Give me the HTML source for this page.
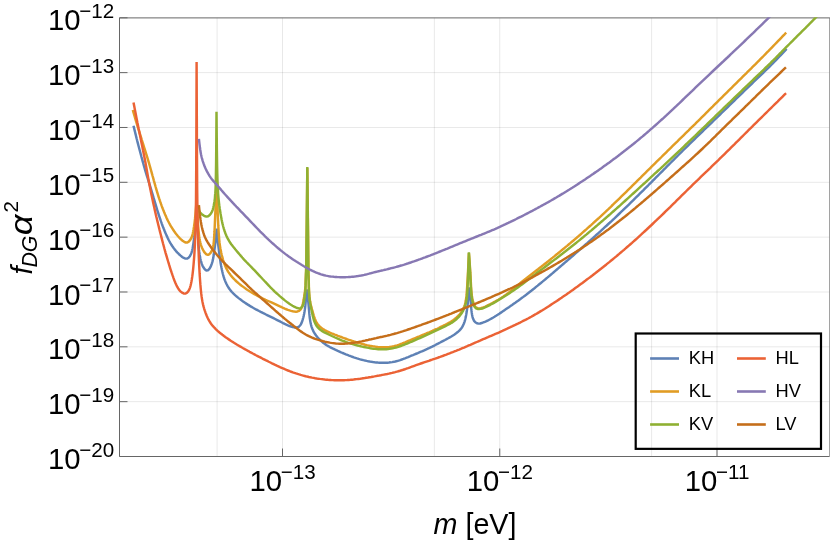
<!DOCTYPE html>
<html><head><meta charset="utf-8"><title>plot</title>
<style>html,body{margin:0;padding:0;background:#fff;}svg{display:block;will-change:transform;}body{font-family:"Liberation Sans",sans-serif;}</style></head>
<body>
<svg width="830" height="540" viewBox="0 0 830 540" font-family="'Liberation Sans', sans-serif" fill="#000">
<rect x="0" y="0" width="830" height="540" fill="#fff"/>
<path d="M119.5 72.64H829.5 M119.5 127.47H829.5 M119.5 182.31H829.5 M119.5 237.15H829.5 M119.5 291.99H829.5 M119.5 346.82H829.5 M119.5 401.66H829.5 M217.10 17.8V456.5 M282.50 17.8V456.5 M434.35 17.8V456.5 M499.75 17.8V456.5 M651.60 17.8V456.5 M717.00 17.8V456.5" stroke="#000" stroke-opacity="0.09" stroke-width="1" fill="none"/>
<path d="M119.5 17.900000000000002H829.9V456.5" stroke="#666666" stroke-width="1" fill="none"/>
<path d="M119.5 17.8V456.5H829.5" stroke="#666666" stroke-width="1" fill="none"/>
<path d="M119.5 17.80h8 M119.5 72.64h8 M119.5 127.47h8 M119.5 182.31h8 M119.5 237.15h8 M119.5 291.99h8 M119.5 346.82h8 M119.5 401.66h8 M119.5 456.50h8 M282.50 456.5v-8 M499.75 456.5v-8 M717.00 456.5v-8" stroke="#666666" stroke-width="1" fill="none"/>
<clipPath id="c"><rect x="119.5" y="17.2" width="711.0" height="439.3"/></clipPath>
<g clip-path="url(#c)" fill="none" stroke-width="2.45" stroke-linejoin="bevel" stroke-linecap="butt">
<path d="M133.50 125.70 L133.90 127.36 L134.30 129.01 L134.70 130.65 L135.10 132.27 L135.50 133.89 L135.90 135.50 L136.30 137.10 L136.69 138.69 L137.09 140.27 L137.49 141.84 L137.89 143.39 L138.29 144.94 L138.69 146.48 L139.09 148.01 L139.49 149.53 L139.89 151.04 L140.29 152.55 L140.89 154.78 L141.49 157.00 L142.09 159.19 L142.69 161.37 L143.28 163.52 L143.88 165.65 L144.48 167.75 L145.08 169.81 L145.68 171.83 L146.28 173.82 L146.88 175.78 L147.48 177.72 L148.08 179.65 L148.68 181.57 L149.28 183.49 L149.87 185.43 L150.47 187.38 L151.07 189.36 L151.67 191.35 L152.27 193.35 L152.87 195.36 L153.47 197.39 L154.07 199.41 L154.67 201.44 L155.27 203.45 L155.86 205.45 L156.46 207.43 L157.06 209.39 L157.66 211.32 L158.26 213.22 L158.86 215.09 L159.46 216.92 L160.06 218.71 L160.66 220.46 L161.26 222.17 L161.86 223.84 L162.45 225.46 L163.05 227.04 L163.65 228.56 L164.45 230.54 L165.25 232.45 L166.05 234.33 L166.85 236.13 L167.65 237.84 L168.44 239.46 L169.24 241.00 L170.24 242.80 L171.24 244.47 L172.24 246.03 L173.44 247.76 L174.63 249.36 L176.03 251.06 L177.43 252.62 L179.03 254.23 L180.63 255.66 L182.22 256.94 L183.82 257.97 L185.42 258.61 L187.02 258.63 L188.61 257.70 L190.01 255.90 L191.01 253.97 L191.61 252.40 L192.21 250.28 L192.61 248.40 L193.01 246.07 L193.41 243.34 L193.80 240.34 L194.00 238.78 L194.20 237.19 L194.40 235.55 L194.60 233.85 L194.80 232.06 L195.00 230.16 L195.20 228.03 L195.40 226.08 L195.60 223.91 L195.80 221.66 L196.00 219.34 L196.20 216.96 L196.40 214.51 L196.60 212.00 L196.80 215.92 L197.00 219.77 L197.20 223.54 L197.40 227.20 L197.60 230.73 L197.79 234.10 L197.99 237.00 L198.19 240.29 L198.39 243.07 L198.59 245.57 L198.79 247.78 L198.99 249.70 L199.19 251.39 L199.59 254.22 L199.98 256.59 L200.38 258.65 L200.78 260.44 L201.18 261.99 L201.77 263.88 L202.57 265.79 L203.57 267.58 L204.76 269.21 L206.35 270.46 L207.94 270.37 L209.54 268.73 L210.53 266.93 L211.33 265.11 L211.92 263.46 L212.52 261.38 L212.92 259.65 L213.32 257.58 L213.71 255.06 L214.11 252.14 L214.31 250.61 L214.51 249.07 L214.71 247.56 L215.11 244.44 L215.31 242.86 L215.51 241.33 L215.70 239.53 L215.90 237.60 L216.10 235.54 L216.30 233.36 L216.50 231.08 L216.70 228.70 L216.90 231.37 L217.10 233.91 L217.30 236.30 L217.50 238.50 L217.70 240.50 L217.90 242.27 L218.30 245.37 L218.70 248.34 L218.90 249.95 L219.10 251.61 L219.30 253.28 L219.50 254.94 L219.70 256.55 L219.90 258.08 L220.30 260.91 L220.70 263.44 L221.10 265.74 L221.50 267.83 L221.90 269.77 L222.30 271.57 L222.70 273.24 L223.10 274.78 L223.70 276.88 L224.30 278.73 L224.90 280.37 L225.70 282.31 L226.50 284.01 L227.30 285.54 L228.30 287.23 L229.30 288.74 L230.50 290.35 L231.90 292.01 L233.50 293.68 L235.10 295.18 L236.70 296.57 L238.30 297.87 L239.90 299.10 L241.50 300.28 L243.10 301.43 L244.70 302.54 L246.30 303.62 L247.90 304.65 L249.50 305.65 L251.10 306.62 L252.70 307.55 L254.30 308.46 L255.90 309.34 L257.50 310.19 L259.10 311.03 L260.70 311.85 L262.30 312.66 L263.90 313.47 L265.50 314.27 L267.10 315.06 L268.70 315.85 L270.30 316.64 L271.90 317.43 L273.50 318.22 L275.10 319.02 L276.70 319.82 L278.30 320.63 L279.90 321.44 L281.50 322.25 L283.10 323.05 L284.70 323.84 L286.30 324.61 L287.90 325.34 L289.50 326.01 L291.10 326.59 L292.70 327.07 L294.30 327.41 L295.90 327.56 L297.50 327.36 L299.10 326.54 L300.50 325.00 L301.50 323.10 L302.10 321.54 L302.70 319.67 L303.30 317.50 L303.70 315.84 L304.10 313.93 L304.50 311.74 L304.90 309.15 L305.10 307.63 L305.30 305.89 L305.50 303.65 L305.70 301.64 L305.90 299.32 L306.10 297.07 L306.30 295.00 L306.50 293.11 L306.70 291.28 L306.90 289.50 L307.10 290.28 L307.30 292.11 L307.50 293.99 L307.70 295.90 L307.90 297.86 L308.10 299.85 L308.30 301.97 L308.50 303.96 L308.70 306.24 L308.90 308.67 L309.10 311.11 L309.30 313.42 L309.50 315.46 L309.70 317.25 L309.90 318.80 L310.30 321.37 L310.70 323.39 L311.09 325.06 L311.69 327.07 L312.29 328.74 L313.09 330.57 L313.89 332.11 L314.89 333.76 L316.09 335.46 L317.29 336.97 L318.69 338.55 L320.28 340.18 L321.88 341.64 L323.48 342.95 L325.08 344.12 L326.68 345.18 L328.27 346.15 L329.87 347.04 L331.47 347.87 L333.07 348.66 L334.67 349.42 L336.26 350.16 L337.86 350.89 L339.46 351.60 L341.06 352.31 L342.66 353.00 L344.25 353.67 L345.85 354.33 L347.45 354.97 L349.05 355.58 L350.65 356.18 L352.24 356.76 L353.84 357.31 L355.44 357.85 L357.04 358.36 L358.64 358.85 L360.23 359.31 L361.83 359.74 L363.43 360.15 L365.03 360.53 L366.63 360.89 L368.22 361.21 L369.82 361.51 L371.42 361.78 L373.02 362.02 L374.62 362.23 L376.21 362.41 L377.81 362.56 L379.41 362.67 L381.01 362.75 L382.61 362.79 L384.20 362.80 L385.80 362.76 L387.40 362.67 L389.00 362.53 L390.60 362.34 L392.19 362.10 L393.79 361.80 L395.39 361.44 L396.99 361.03 L398.59 360.57 L400.19 360.06 L401.78 359.51 L403.38 358.92 L404.98 358.31 L406.58 357.68 L408.18 357.04 L409.77 356.39 L411.37 355.73 L412.97 355.08 L414.57 354.42 L416.17 353.75 L417.76 353.09 L419.36 352.41 L420.96 351.73 L422.56 351.04 L424.16 350.33 L425.75 349.61 L427.35 348.88 L428.95 348.13 L430.55 347.37 L432.15 346.59 L433.74 345.80 L435.34 344.99 L436.94 344.17 L438.54 343.35 L440.14 342.52 L441.73 341.69 L443.33 340.85 L444.93 340.01 L446.53 339.16 L448.13 338.29 L449.72 337.40 L451.32 336.46 L452.92 335.47 L454.52 334.41 L456.12 333.29 L457.71 332.06 L459.31 330.65 L460.91 328.91 L462.11 327.21 L463.11 325.39 L463.91 323.52 L464.51 321.83 L465.11 319.80 L465.50 318.22 L465.90 316.37 L466.30 314.24 L466.70 311.81 L467.10 309.05 L467.30 307.52 L467.50 305.84 L467.70 304.01 L467.90 301.94 L468.10 299.99 L468.30 297.99 L468.50 295.94 L468.70 293.85 L468.90 291.72 L469.10 289.53 L469.30 287.30 L469.50 289.12 L469.70 291.00 L469.90 292.92 L470.10 294.89 L470.30 296.90 L470.50 298.95 L470.70 301.39 L470.90 303.69 L471.10 306.27 L471.30 308.66 L471.50 310.71 L471.70 312.40 L472.10 314.98 L472.50 316.84 L473.10 318.86 L473.90 320.60 L475.30 322.25 L476.90 323.26 L478.50 323.60 L480.10 323.45 L481.70 323.01 L483.30 322.45 L484.90 321.81 L486.49 321.10 L488.09 320.33 L489.69 319.50 L491.29 318.62 L492.89 317.70 L494.49 316.75 L496.09 315.75 L497.69 314.73 L499.29 313.68 L500.89 312.61 L502.49 311.53 L504.09 310.44 L505.69 309.35 L507.29 308.25 L508.89 307.16 L510.49 306.06 L512.09 304.95 L513.69 303.83 L515.29 302.71 L516.89 301.57 L518.48 300.42 L520.08 299.25 L521.68 298.07 L523.28 296.88 L524.88 295.68 L526.48 294.46 L528.08 293.22 L529.68 291.98 L531.28 290.73 L532.88 289.46 L534.48 288.19 L536.08 286.90 L537.68 285.61 L539.28 284.31 L540.88 283.00 L542.48 281.68 L544.08 280.35 L545.68 279.02 L547.28 277.68 L548.87 276.33 L550.47 274.98 L552.07 273.63 L553.67 272.27 L555.27 270.90 L556.87 269.53 L558.47 268.16 L560.07 266.79 L561.67 265.41 L563.27 264.03 L564.87 262.65 L566.47 261.27 L568.07 259.89 L569.67 258.50 L571.27 257.11 L572.87 255.72 L574.47 254.33 L576.07 252.94 L577.67 251.54 L579.27 250.14 L580.86 248.74 L582.46 247.33 L584.06 245.92 L585.66 244.51 L587.26 243.10 L588.86 241.67 L590.46 240.25 L592.06 238.81 L593.66 237.38 L595.26 235.94 L596.86 234.49 L598.46 233.04 L600.06 231.59 L601.66 230.13 L603.26 228.67 L604.86 227.20 L606.46 225.73 L608.06 224.25 L609.66 222.77 L611.26 221.28 L612.85 219.78 L614.45 218.28 L616.05 216.77 L617.65 215.26 L619.25 213.74 L620.85 212.22 L622.45 210.69 L624.05 209.15 L625.65 207.61 L627.25 206.06 L628.85 204.51 L630.45 202.95 L632.05 201.38 L633.65 199.81 L635.25 198.24 L636.85 196.66 L638.45 195.08 L640.05 193.49 L641.65 191.90 L643.25 190.31 L644.84 188.71 L646.44 187.11 L648.04 185.51 L649.64 183.90 L651.24 182.30 L652.84 180.69 L654.44 179.08 L656.04 177.47 L657.64 175.86 L659.24 174.25 L660.84 172.65 L662.44 171.04 L664.04 169.43 L665.64 167.83 L667.24 166.22 L668.84 164.61 L670.44 163.00 L672.04 161.39 L673.64 159.79 L675.24 158.19 L676.83 156.59 L678.43 155.00 L680.03 153.41 L681.63 151.82 L683.23 150.24 L684.83 148.66 L686.43 147.08 L688.03 145.51 L689.63 143.94 L691.23 142.38 L692.83 140.82 L694.43 139.26 L696.03 137.71 L697.63 136.16 L699.23 134.61 L700.83 133.06 L702.43 131.52 L704.03 129.97 L705.63 128.43 L707.23 126.88 L708.82 125.34 L710.42 123.79 L712.02 122.25 L713.62 120.70 L715.22 119.15 L716.82 117.60 L718.42 116.05 L720.02 114.50 L721.62 112.95 L723.22 111.40 L724.82 109.85 L726.42 108.30 L728.02 106.75 L729.62 105.20 L731.22 103.64 L732.82 102.09 L734.42 100.54 L736.02 98.99 L737.62 97.44 L739.21 95.89 L740.81 94.34 L742.41 92.79 L744.01 91.24 L745.61 89.69 L747.21 88.15 L748.81 86.60 L750.41 85.05 L752.01 83.51 L753.61 81.97 L755.21 80.43 L756.81 78.89 L758.41 77.36 L760.01 75.82 L761.61 74.29 L763.21 72.75 L764.81 71.20 L766.41 69.65 L768.01 68.09 L769.61 66.51 L771.20 64.93 L772.80 63.33 L774.40 61.71 L776.00 60.07 L777.60 58.42 L779.20 56.74 L780.80 55.05 L782.40 53.34 L783.80 51.83 L785.20 50.32 L786.60 48.80" stroke="#5E81B5"/>
<path d="M132.80 110.00 L133.40 112.09 L134.00 114.17 L134.60 116.25 L135.20 118.30 L135.80 120.34 L136.40 122.35 L137.00 124.34 L137.60 126.32 L138.20 128.29 L138.80 130.24 L139.40 132.18 L140.00 134.11 L140.60 136.03 L141.20 137.95 L141.80 139.87 L142.40 141.78 L143.00 143.69 L143.60 145.60 L144.20 147.51 L144.80 149.43 L145.40 151.35 L146.00 153.28 L146.60 155.21 L147.20 157.17 L147.80 159.15 L148.40 161.16 L149.00 163.20 L149.60 165.28 L150.20 167.38 L150.80 169.51 L151.40 171.67 L152.00 173.83 L152.60 176.02 L153.20 178.19 L153.80 180.36 L154.40 182.52 L155.00 184.66 L155.60 186.77 L156.20 188.85 L156.80 190.89 L157.40 192.89 L158.00 194.84 L158.60 196.76 L159.20 198.62 L159.80 200.43 L160.40 202.20 L161.00 203.92 L161.60 205.59 L162.20 207.21 L162.80 208.79 L163.40 210.32 L164.20 212.30 L165.00 214.23 L165.80 216.12 L166.60 217.91 L167.40 219.62 L168.20 221.24 L169.00 222.78 L170.00 224.60 L171.00 226.32 L172.00 227.95 L173.00 229.50 L174.20 231.26 L175.40 232.94 L176.60 234.52 L178.00 236.23 L179.40 237.80 L181.00 239.39 L182.60 240.76 L184.20 241.85 L185.80 242.49 L187.40 242.41 L189.00 241.38 L190.40 239.63 L191.40 237.82 L192.20 235.73 L192.80 233.46 L193.20 231.52 L193.60 229.26 L194.00 226.75 L194.40 223.96 L194.60 222.41 L194.80 220.72 L195.00 218.88 L195.20 216.70 L195.40 214.77 L195.60 212.54 L195.80 210.21 L196.00 207.77 L196.20 205.26 L196.40 202.66 L196.60 200.00 L196.80 203.63 L197.00 207.21 L197.20 210.71 L197.40 214.11 L197.60 217.38 L197.79 220.51 L197.99 223.19 L198.19 226.24 L198.39 228.80 L198.59 231.10 L198.79 233.11 L198.99 234.86 L199.19 236.38 L199.59 238.89 L199.98 240.95 L200.38 242.71 L200.78 244.24 L201.38 246.17 L201.97 247.72 L202.77 249.43 L203.76 251.22 L204.76 252.72 L206.35 254.35 L207.94 254.86 L209.54 254.06 L210.93 252.36 L211.92 250.62 L212.52 249.05 L213.12 246.70 L213.52 244.25 L213.71 242.61 L213.91 240.60 L214.11 238.10 L214.31 234.95 L214.51 231.19 L214.71 226.83 L214.91 222.13 L215.11 217.47 L215.31 212.97 L215.51 208.55 L215.70 203.99 L215.90 199.35 L216.10 194.64 L216.30 189.85 L216.50 184.97 L216.70 180.00 L216.90 187.38 L217.10 194.37 L217.30 200.94 L217.50 207.02 L217.70 212.58 L217.90 217.57 L218.10 221.26 L218.30 225.93 L218.50 229.56 L218.70 232.82 L218.90 235.69 L219.09 238.18 L219.29 240.33 L219.49 242.19 L219.69 243.82 L220.09 246.59 L220.49 248.96 L220.89 251.06 L221.29 253.01 L221.69 254.78 L222.09 256.43 L222.49 257.94 L223.09 260.02 L223.68 261.89 L224.28 263.58 L224.88 265.13 L225.68 267.00 L226.48 268.66 L227.48 270.49 L228.47 272.12 L229.67 273.86 L230.87 275.43 L232.27 277.10 L233.66 278.63 L235.26 280.24 L236.86 281.73 L238.45 283.13 L240.05 284.44 L241.64 285.69 L243.24 286.88 L244.84 288.04 L246.43 289.15 L248.03 290.22 L249.63 291.25 L251.22 292.24 L252.82 293.20 L254.42 294.11 L256.01 294.99 L257.61 295.84 L259.21 296.66 L260.80 297.46 L262.40 298.24 L264.00 299.01 L265.59 299.77 L267.19 300.52 L268.79 301.25 L270.38 301.98 L271.98 302.71 L273.57 303.44 L275.17 304.19 L276.77 304.94 L278.36 305.70 L279.96 306.46 L281.56 307.21 L283.15 307.93 L284.75 308.62 L286.35 309.26 L287.94 309.85 L289.54 310.38 L291.14 310.85 L292.73 311.26 L294.33 311.56 L295.93 311.68 L297.52 311.47 L299.12 310.79 L300.71 309.31 L301.71 307.52 L302.31 305.84 L302.91 303.54 L303.31 301.57 L303.71 299.34 L304.11 296.88 L304.51 294.17 L304.91 291.43 L305.10 289.79 L305.30 288.02 L305.50 285.88 L305.70 279.19 L305.90 274.13 L306.10 271.36 L306.30 258.21 L306.50 242.66 L306.70 226.95 L306.90 209.31 L307.10 189.55 L307.30 168.00 L307.50 184.32 L307.70 200.95 L307.90 217.85 L308.10 235.00 L308.30 255.32 L308.50 274.10 L308.70 276.44 L308.90 287.63 L309.10 291.75 L309.30 294.63 L309.50 296.84 L309.70 298.70 L310.10 301.33 L310.50 303.54 L310.90 305.27 L311.30 306.94 L311.90 309.14 L312.50 311.22 L313.10 313.26 L313.70 315.28 L314.30 317.16 L314.90 318.85 L315.70 320.78 L316.50 322.36 L317.50 323.96 L318.70 325.48 L320.30 327.06 L321.90 328.34 L323.50 329.41 L325.10 330.35 L326.70 331.18 L328.30 331.94 L329.90 332.64 L331.50 333.30 L333.10 333.93 L334.70 334.56 L336.30 335.17 L337.90 335.79 L339.50 336.40 L341.10 337.00 L342.70 337.60 L344.30 338.19 L345.90 338.77 L347.50 339.35 L349.10 339.90 L350.70 340.44 L352.30 340.98 L353.90 341.50 L355.50 342.01 L357.10 342.51 L358.70 342.98 L360.30 343.44 L361.90 343.89 L363.50 344.31 L365.10 344.71 L366.70 345.09 L368.30 345.44 L369.90 345.77 L371.50 346.07 L373.10 346.34 L374.70 346.58 L376.30 346.79 L377.90 346.97 L379.50 347.10 L381.10 347.20 L382.70 347.26 L384.30 347.27 L385.90 347.23 L387.50 347.14 L389.10 346.99 L390.70 346.78 L392.30 346.51 L393.90 346.17 L395.50 345.77 L397.10 345.32 L398.70 344.80 L400.30 344.24 L401.90 343.64 L403.50 343.00 L405.10 342.35 L406.70 341.67 L408.30 340.99 L409.90 340.31 L411.50 339.63 L413.10 338.95 L414.70 338.28 L416.30 337.62 L417.90 336.96 L419.50 336.31 L421.10 335.65 L422.70 334.99 L424.30 334.33 L425.90 333.67 L427.50 332.99 L429.10 332.31 L430.70 331.62 L432.30 330.92 L433.90 330.20 L435.50 329.47 L437.10 328.74 L438.70 327.99 L440.30 327.22 L441.90 326.45 L443.50 325.66 L445.10 324.85 L446.70 324.02 L448.30 323.15 L449.90 322.24 L451.50 321.26 L453.10 320.18 L454.70 319.00 L456.30 317.69 L457.90 316.20 L459.50 314.48 L460.70 312.97 L461.90 311.24 L462.90 309.52 L463.70 307.87 L464.30 306.37 L464.90 304.51 L465.30 302.97 L465.70 301.09 L466.10 298.58 L466.30 297.00 L466.50 295.13 L466.70 292.91 L466.90 290.36 L467.10 287.49 L467.30 284.37 L467.50 280.68 L467.70 277.42 L467.90 273.67 L468.10 269.75 L468.30 265.70 L468.50 261.54 L468.70 257.30 L468.90 253.00 L469.10 255.42 L469.30 257.95 L469.50 260.58 L469.70 263.30 L469.90 266.12 L470.10 269.02 L470.30 272.45 L470.50 275.58 L470.70 279.43 L470.90 283.27 L471.10 286.79 L471.30 289.79 L471.50 292.30 L471.70 294.30 L471.90 295.94 L472.30 298.47 L472.70 300.32 L473.30 302.44 L473.90 304.14 L474.70 305.89 L475.90 307.45 L477.50 308.22 L479.10 308.38 L480.70 308.21 L482.30 307.81 L483.90 307.22 L485.49 306.50 L487.09 305.72 L488.69 304.92 L490.29 304.10 L491.89 303.27 L493.49 302.42 L495.09 301.56 L496.69 300.67 L498.29 299.75 L499.89 298.80 L501.49 297.80 L503.09 296.74 L504.69 295.62 L506.29 294.45 L507.89 293.24 L509.49 291.98 L511.09 290.70 L512.69 289.39 L514.29 288.07 L515.89 286.75 L517.48 285.43 L519.08 284.12 L520.68 282.81 L522.28 281.51 L523.88 280.23 L525.48 278.96 L527.08 277.69 L528.68 276.44 L530.28 275.19 L531.88 273.94 L533.48 272.70 L535.08 271.46 L536.68 270.22 L538.28 268.99 L539.88 267.74 L541.48 266.50 L543.08 265.25 L544.68 263.99 L546.28 262.73 L547.88 261.46 L549.47 260.19 L551.07 258.91 L552.67 257.63 L554.27 256.34 L555.87 255.04 L557.47 253.74 L559.07 252.43 L560.67 251.12 L562.27 249.81 L563.87 248.49 L565.47 247.16 L567.07 245.83 L568.67 244.49 L570.27 243.15 L571.87 241.80 L573.47 240.45 L575.07 239.08 L576.67 237.72 L578.27 236.34 L579.87 234.96 L581.46 233.57 L583.06 232.17 L584.66 230.76 L586.26 229.35 L587.86 227.92 L589.46 226.49 L591.06 225.06 L592.66 223.62 L594.26 222.17 L595.86 220.72 L597.46 219.26 L599.06 217.79 L600.66 216.31 L602.26 214.82 L603.86 213.33 L605.46 211.83 L607.06 210.32 L608.66 208.81 L610.26 207.29 L611.85 205.76 L613.45 204.23 L615.05 202.69 L616.65 201.15 L618.25 199.60 L619.85 198.04 L621.45 196.48 L623.05 194.92 L624.65 193.35 L626.25 191.78 L627.85 190.21 L629.45 188.63 L631.05 187.05 L632.65 185.47 L634.25 183.89 L635.85 182.31 L637.45 180.73 L639.05 179.14 L640.65 177.56 L642.25 175.97 L643.84 174.39 L645.44 172.80 L647.04 171.22 L648.64 169.63 L650.24 168.05 L651.84 166.47 L653.44 164.89 L655.04 163.31 L656.64 161.73 L658.24 160.15 L659.84 158.57 L661.44 157.00 L663.04 155.42 L664.64 153.85 L666.24 152.28 L667.84 150.70 L669.44 149.12 L671.04 147.55 L672.64 145.98 L674.24 144.41 L675.83 142.84 L677.43 141.28 L679.03 139.71 L680.63 138.14 L682.23 136.58 L683.83 135.01 L685.43 133.44 L687.03 131.88 L688.63 130.31 L690.23 128.73 L691.83 127.16 L693.43 125.58 L695.03 124.01 L696.63 122.43 L698.23 120.85 L699.83 119.26 L701.43 117.68 L703.03 116.09 L704.63 114.51 L706.23 112.92 L707.82 111.33 L709.42 109.74 L711.02 108.15 L712.62 106.57 L714.22 104.98 L715.82 103.39 L717.42 101.80 L719.02 100.22 L720.62 98.63 L722.22 97.05 L723.82 95.46 L725.42 93.88 L727.02 92.30 L728.62 90.71 L730.22 89.13 L731.82 87.55 L733.42 85.96 L735.02 84.38 L736.62 82.80 L738.22 81.22 L739.81 79.64 L741.41 78.06 L743.01 76.48 L744.61 74.90 L746.21 73.32 L747.81 71.73 L749.41 70.15 L751.01 68.57 L752.61 66.98 L754.21 65.39 L755.81 63.80 L757.41 62.20 L759.01 60.59 L760.61 58.98 L762.21 57.36 L763.81 55.74 L765.41 54.11 L767.01 52.48 L768.61 50.85 L770.21 49.21 L771.80 47.56 L773.40 45.92 L775.00 44.27 L776.60 42.61 L778.20 40.95 L779.80 39.29 L781.40 37.63 L783.00 35.95 L784.60 34.28 L786.20 32.60" stroke="#E19C24"/>
<path d="M199.20 211.00 L200.19 212.56 L201.79 214.15 L203.38 215.33 L204.97 216.20 L206.56 216.58 L208.15 216.21 L209.74 215.00 L211.13 213.24 L212.13 211.41 L212.72 209.82 L213.32 207.60 L213.72 205.73 L214.11 203.58 L214.51 201.15 L214.91 198.09 L215.11 194.77 L215.31 193.16 L215.51 189.89 L215.70 184.35 L215.90 175.42 L216.10 162.40 L216.30 140.37 L216.50 111.70 L216.70 132.77 L216.90 150.94 L217.10 164.92 L217.30 173.95 L217.50 180.70 L217.70 185.93 L217.90 188.61 L218.10 193.27 L218.30 195.90 L218.50 198.19 L218.70 200.22 L218.89 202.01 L219.09 203.72 L219.29 205.28 L219.69 208.16 L220.09 210.76 L220.49 213.25 L220.89 215.61 L221.29 217.84 L221.69 219.93 L222.09 221.86 L222.49 223.63 L222.89 225.27 L223.29 226.78 L223.88 228.86 L224.48 230.74 L225.08 232.46 L225.68 234.03 L226.48 235.93 L227.28 237.64 L228.07 239.19 L229.07 240.94 L230.07 242.51 L231.27 244.23 L232.46 245.82 L233.86 247.56 L235.26 249.26 L236.66 250.94 L238.05 252.61 L239.45 254.28 L240.85 255.92 L242.24 257.52 L243.64 259.07 L245.04 260.58 L246.63 262.25 L248.23 263.89 L249.83 265.51 L251.42 267.14 L253.02 268.79 L254.62 270.46 L256.21 272.16 L257.81 273.84 L259.41 275.54 L261.00 277.24 L262.40 278.75 L263.80 280.25 L265.39 281.96 L266.99 283.66 L268.59 285.35 L270.18 287.02 L271.78 288.66 L273.37 290.25 L274.97 291.78 L276.57 293.27 L278.16 294.69 L279.76 296.08 L281.36 297.44 L282.95 298.77 L284.55 300.09 L286.15 301.37 L287.74 302.60 L289.34 303.74 L290.94 304.79 L292.53 305.74 L294.13 306.61 L295.73 307.38 L297.32 308.02 L298.92 308.43 L300.51 308.29 L302.11 306.89 L302.91 305.36 L303.51 303.48 L303.91 301.59 L304.31 299.22 L304.71 296.30 L305.10 293.20 L305.30 291.37 L305.50 289.19 L305.70 282.56 L305.90 277.57 L306.30 263.08 L306.50 244.08 L306.70 226.04 L306.90 207.50 L307.10 187.78 L307.30 166.90 L307.50 187.07 L307.70 206.66 L307.90 225.69 L308.10 245.00 L308.30 265.77 L308.50 279.30 L308.70 280.94 L308.90 290.34 L309.10 293.87 L309.30 296.45 L309.50 298.50 L309.70 300.22 L310.10 302.71 L310.50 304.94 L310.90 306.90 L311.30 308.92 L311.70 310.86 L312.10 312.78 L312.50 314.65 L312.90 316.38 L313.30 317.98 L313.90 320.04 L314.50 321.77 L315.30 323.62 L316.30 325.42 L317.50 327.09 L319.10 328.76 L320.70 330.08 L322.30 331.16 L323.90 332.09 L325.50 332.93 L327.10 333.72 L328.70 334.49 L330.30 335.25 L331.90 336.01 L333.50 336.76 L335.10 337.50 L336.70 338.23 L338.30 338.94 L339.90 339.62 L341.50 340.27 L343.10 340.90 L344.70 341.51 L346.30 342.08 L347.90 342.63 L349.50 343.16 L351.10 343.66 L352.70 344.14 L354.30 344.60 L355.90 345.03 L357.50 345.45 L359.10 345.85 L360.70 346.23 L362.30 346.59 L363.90 346.94 L365.50 347.28 L367.10 347.60 L368.70 347.90 L370.30 348.18 L371.90 348.44 L373.50 348.67 L375.10 348.87 L376.70 349.04 L378.30 349.17 L379.90 349.26 L381.50 349.30 L383.10 349.30 L384.70 349.26 L386.30 349.16 L387.90 349.01 L389.50 348.81 L391.10 348.56 L392.70 348.26 L394.30 347.91 L395.90 347.51 L397.50 347.06 L399.10 346.56 L400.70 346.03 L402.30 345.45 L403.90 344.85 L405.50 344.22 L407.10 343.57 L408.70 342.90 L410.30 342.22 L411.90 341.53 L413.50 340.83 L415.10 340.13 L416.70 339.43 L418.30 338.72 L419.90 338.01 L421.50 337.29 L423.10 336.57 L424.70 335.85 L426.30 335.12 L427.90 334.39 L429.50 333.66 L431.10 332.91 L432.70 332.17 L434.30 331.41 L435.90 330.65 L437.50 329.89 L439.10 329.13 L440.70 328.36 L442.30 327.60 L443.90 326.83 L445.50 326.05 L447.10 325.26 L448.70 324.44 L450.30 323.57 L451.90 322.62 L453.50 321.56 L455.10 320.35 L456.70 318.98 L458.30 317.41 L459.70 315.82 L460.90 314.28 L462.10 312.51 L463.10 310.77 L463.90 309.07 L464.50 307.54 L465.10 305.73 L465.70 303.59 L466.10 301.83 L466.50 299.71 L466.90 296.85 L467.10 294.99 L467.30 292.56 L467.50 288.21 L467.70 285.10 L467.90 280.01 L468.10 274.75 L468.30 269.65 L468.50 264.21 L468.70 258.40 L468.90 252.30 L469.10 255.48 L469.30 258.71 L469.50 262.00 L469.70 265.35 L469.90 268.75 L470.10 272.19 L470.30 276.38 L470.50 280.41 L470.70 284.52 L470.90 288.16 L471.10 291.15 L471.30 293.56 L471.50 295.50 L471.70 297.06 L472.10 299.46 L472.50 301.29 L473.10 303.35 L473.70 304.97 L474.50 306.65 L475.90 308.30 L477.50 308.94 L479.10 309.06 L480.70 308.89 L482.30 308.49 L483.90 307.90 L485.50 307.19 L487.09 306.42 L488.69 305.61 L490.29 304.79 L491.89 303.94 L493.49 303.07 L495.09 302.17 L496.69 301.24 L498.29 300.29 L499.89 299.32 L501.49 298.33 L503.09 297.32 L504.69 296.30 L506.29 295.27 L507.89 294.23 L509.49 293.17 L511.09 292.10 L512.69 291.01 L514.29 289.91 L515.89 288.80 L517.49 287.67 L519.09 286.52 L520.69 285.36 L522.28 284.19 L523.88 283.00 L525.48 281.80 L527.08 280.60 L528.68 279.39 L530.28 278.17 L531.88 276.95 L533.48 275.72 L535.08 274.50 L536.68 273.27 L538.28 272.05 L539.88 270.83 L541.48 269.61 L543.08 268.39 L544.68 267.18 L546.28 265.96 L547.88 264.75 L549.48 263.53 L551.08 262.31 L552.68 261.10 L554.28 259.88 L555.88 258.66 L557.47 257.43 L559.07 256.21 L560.67 254.98 L562.27 253.75 L563.87 252.51 L565.47 251.27 L567.07 250.02 L568.67 248.77 L570.27 247.51 L571.87 246.24 L573.47 244.97 L575.07 243.70 L576.67 242.42 L578.27 241.13 L579.87 239.83 L581.47 238.53 L583.07 237.22 L584.67 235.90 L586.27 234.58 L587.87 233.25 L589.47 231.91 L591.07 230.58 L592.66 229.23 L594.26 227.88 L595.86 226.53 L597.46 225.17 L599.06 223.80 L600.66 222.43 L602.26 221.05 L603.86 219.66 L605.46 218.27 L607.06 216.87 L608.66 215.47 L610.26 214.07 L611.86 212.66 L613.46 211.24 L615.06 209.82 L616.66 208.40 L618.26 206.97 L619.86 205.54 L621.46 204.10 L623.06 202.66 L624.66 201.22 L626.26 199.78 L627.85 198.33 L629.45 196.88 L631.05 195.43 L632.65 193.97 L634.25 192.52 L635.85 191.06 L637.45 189.60 L639.05 188.14 L640.65 186.68 L642.25 185.22 L643.85 183.75 L645.45 182.29 L647.05 180.82 L648.65 179.35 L650.25 177.88 L651.85 176.41 L653.45 174.94 L655.05 173.46 L656.65 171.99 L658.25 170.51 L659.85 169.03 L661.45 167.54 L663.05 166.06 L664.64 164.57 L666.24 163.08 L667.84 161.59 L669.44 160.10 L671.04 158.60 L672.64 157.10 L674.24 155.60 L675.84 154.09 L677.44 152.58 L679.04 151.07 L680.64 149.56 L682.24 148.04 L683.84 146.52 L685.44 145.00 L687.04 143.48 L688.64 141.95 L690.24 140.42 L691.84 138.89 L693.44 137.36 L695.04 135.83 L696.64 134.29 L698.24 132.75 L699.83 131.21 L701.43 129.67 L703.03 128.13 L704.63 126.59 L706.23 125.04 L707.83 123.49 L709.43 121.94 L711.03 120.39 L712.63 118.84 L714.23 117.29 L715.83 115.74 L717.43 114.19 L719.03 112.64 L720.63 111.09 L722.23 109.54 L723.83 107.99 L725.43 106.44 L727.03 104.90 L728.63 103.35 L730.23 101.81 L731.83 100.26 L733.43 98.72 L735.02 97.18 L736.62 95.64 L738.22 94.10 L739.82 92.56 L741.42 91.03 L743.02 89.49 L744.62 87.96 L746.22 86.42 L747.82 84.89 L749.42 83.35 L751.02 81.82 L752.62 80.29 L754.22 78.75 L755.82 77.22 L757.42 75.68 L759.02 74.15 L760.62 72.61 L762.22 71.06 L763.82 69.52 L765.42 67.96 L767.02 66.41 L768.62 64.84 L770.21 63.28 L771.81 61.70 L773.41 60.12 L775.01 58.53 L776.61 56.93 L778.21 55.32 L779.81 53.71 L781.41 52.10 L783.01 50.48 L784.61 48.85 L786.21 47.23 L787.81 45.61 L789.41 43.99 L791.01 42.38 L792.61 40.78 L794.21 39.18 L795.81 37.58 L797.41 35.99 L799.01 34.40 L800.61 32.81 L802.21 31.22 L803.81 29.63 L805.40 28.03 L807.00 26.43 L808.60 24.82 L810.20 23.21 L811.80 21.58 L813.40 19.96 L815.00 18.32 L816.60 16.67 L818.20 15.00 L819.80 13.32 L821.40 11.63 L822.00 11.00" stroke="#8FB032"/>
<path d="M133.50 102.40 L133.90 104.48 L134.30 106.56 L134.70 108.64 L135.10 110.72 L135.50 112.79 L135.90 114.85 L136.30 116.90 L136.69 118.95 L137.09 120.99 L137.49 123.01 L137.89 125.01 L138.29 127.00 L138.69 128.98 L139.09 130.95 L139.49 132.90 L139.89 134.85 L140.29 136.80 L140.69 138.74 L141.09 140.69 L141.49 142.63 L141.89 144.57 L142.29 146.52 L142.69 148.47 L143.08 150.43 L143.48 152.40 L143.88 154.40 L144.28 156.43 L144.68 158.50 L145.08 160.62 L145.48 162.79 L145.88 164.99 L146.28 167.22 L146.68 169.47 L147.08 171.72 L147.48 173.97 L147.88 176.19 L148.28 178.38 L148.68 180.54 L149.08 182.66 L149.47 184.73 L149.87 186.78 L150.27 188.79 L150.67 190.77 L151.07 192.72 L151.47 194.64 L151.87 196.55 L152.27 198.43 L152.67 200.29 L153.07 202.14 L153.47 203.98 L153.87 205.79 L154.27 207.59 L154.67 209.38 L155.07 211.14 L155.47 212.90 L155.86 214.63 L156.26 216.35 L156.66 218.05 L157.06 219.73 L157.46 221.40 L157.86 223.05 L158.26 224.69 L158.66 226.31 L159.06 227.92 L159.46 229.52 L159.86 231.11 L160.26 232.69 L160.66 234.26 L161.06 235.82 L161.46 237.37 L161.86 238.91 L162.25 240.44 L162.65 241.97 L163.05 243.49 L163.45 245.00 L163.85 246.50 L164.45 248.73 L165.05 250.94 L165.65 253.06 L166.25 255.15 L166.85 257.21 L167.45 259.24 L168.05 261.25 L168.64 263.23 L169.24 265.18 L169.84 267.11 L170.44 269.01 L171.04 270.87 L171.64 272.69 L172.24 274.46 L172.84 276.19 L173.44 277.87 L174.04 279.48 L174.63 281.03 L175.43 282.98 L176.23 284.78 L177.03 286.41 L178.03 288.19 L179.03 289.70 L180.43 291.34 L182.02 292.67 L183.62 293.46 L185.22 293.62 L186.82 292.92 L188.21 291.41 L189.21 289.63 L190.01 287.57 L190.61 285.50 L191.01 283.81 L191.41 281.83 L191.81 279.53 L192.21 276.90 L192.61 273.86 L192.81 272.14 L193.01 270.31 L193.21 268.34 L193.41 266.25 L193.60 264.05 L193.80 261.68 L194.00 259.14 L194.20 256.46 L194.40 253.46 L194.60 250.14 L194.80 246.41 L195.00 242.18 L195.20 235.62 L195.40 231.63 L195.60 225.13 L195.80 215.04 L196.00 199.91 L196.20 170.47 L196.40 122.44 L196.60 61.90 L196.80 112.65 L197.00 157.54 L197.20 190.22 L197.40 206.76 L197.60 217.93 L197.80 226.62 L198.00 232.00 L198.20 240.35 L198.40 246.10 L198.60 251.74 L198.80 256.97 L199.00 261.65 L199.20 265.94 L199.40 269.75 L199.60 273.20 L199.80 276.38 L200.00 279.29 L200.20 282.06 L200.40 284.64 L200.60 287.04 L200.80 289.25 L201.00 291.29 L201.20 293.16 L201.40 294.83 L201.60 296.40 L202.00 299.12 L202.40 301.40 L202.80 303.37 L203.20 305.10 L203.60 306.67 L204.20 308.77 L204.80 310.67 L205.40 312.42 L206.00 314.07 L206.80 316.04 L207.60 317.82 L208.40 319.41 L209.40 321.17 L210.40 322.74 L211.60 324.42 L213.00 326.16 L214.40 327.72 L216.00 329.36 L217.60 330.87 L219.20 332.27 L220.80 333.59 L222.40 334.84 L224.00 336.04 L225.60 337.19 L227.20 338.31 L228.80 339.39 L230.40 340.45 L232.00 341.49 L233.60 342.51 L235.20 343.50 L236.80 344.48 L238.40 345.43 L240.00 346.38 L241.60 347.31 L243.20 348.23 L244.80 349.14 L246.40 350.03 L248.00 350.92 L249.60 351.80 L251.20 352.67 L252.80 353.53 L254.40 354.38 L256.00 355.23 L257.60 356.06 L259.20 356.89 L260.80 357.71 L262.40 358.53 L264.00 359.33 L265.60 360.14 L267.20 360.93 L268.80 361.73 L270.40 362.51 L272.00 363.29 L273.60 364.06 L275.20 364.83 L276.80 365.59 L278.40 366.33 L280.00 367.07 L281.60 367.79 L283.20 368.49 L284.80 369.18 L286.40 369.85 L288.00 370.50 L289.60 371.13 L291.20 371.74 L292.80 372.32 L294.40 372.88 L296.00 373.43 L297.60 373.94 L299.20 374.44 L300.80 374.91 L302.40 375.36 L304.00 375.78 L305.60 376.19 L307.20 376.57 L308.80 376.93 L310.40 377.27 L312.00 377.59 L313.60 377.88 L315.20 378.17 L316.80 378.43 L318.40 378.67 L320.00 378.90 L321.60 379.11 L323.20 379.31 L324.80 379.49 L326.40 379.66 L328.00 379.81 L329.60 379.94 L331.20 380.05 L332.80 380.15 L334.40 380.23 L336.00 380.29 L337.60 380.32 L339.20 380.33 L340.80 380.32 L342.40 380.29 L344.00 380.23 L345.60 380.15 L347.20 380.06 L348.80 379.94 L350.40 379.81 L352.00 379.66 L353.60 379.50 L355.20 379.32 L356.80 379.14 L358.40 378.93 L360.00 378.72 L361.60 378.50 L363.20 378.26 L364.80 378.02 L366.40 377.76 L368.00 377.50 L369.60 377.23 L371.20 376.96 L372.80 376.68 L374.40 376.40 L376.00 376.11 L377.60 375.82 L379.20 375.53 L380.80 375.23 L382.40 374.92 L384.00 374.61 L385.60 374.30 L387.20 373.97 L388.80 373.63 L390.40 373.27 L392.00 372.90 L393.60 372.52 L395.20 372.11 L396.80 371.68 L398.40 371.23 L400.00 370.76 L401.60 370.26 L403.20 369.75 L404.80 369.22 L406.40 368.67 L408.00 368.11 L409.60 367.53 L411.20 366.96 L412.80 366.38 L414.40 365.80 L416.00 365.22 L417.60 364.65 L419.20 364.08 L420.80 363.52 L422.40 362.97 L424.00 362.42 L425.60 361.87 L427.20 361.33 L428.80 360.79 L430.40 360.24 L432.00 359.70 L433.60 359.15 L435.20 358.60 L436.80 358.04 L438.40 357.48 L440.00 356.91 L441.60 356.33 L443.20 355.75 L444.80 355.16 L446.40 354.57 L448.00 353.96 L449.60 353.35 L451.20 352.73 L452.80 352.11 L454.40 351.48 L456.00 350.84 L457.60 350.19 L459.20 349.54 L460.80 348.88 L462.40 348.21 L464.00 347.54 L465.60 346.86 L467.20 346.18 L468.80 345.49 L470.40 344.80 L472.00 344.10 L473.60 343.40 L475.20 342.70 L476.80 342.00 L478.40 341.30 L480.00 340.61 L481.60 339.91 L483.20 339.22 L484.80 338.53 L486.40 337.84 L488.00 337.16 L489.60 336.47 L491.20 335.79 L492.80 335.11 L494.40 334.43 L496.00 333.74 L497.60 333.04 L499.20 332.34 L500.80 331.62 L502.40 330.90 L504.00 330.17 L505.60 329.44 L507.20 328.70 L508.80 327.95 L510.40 327.20 L512.00 326.44 L513.60 325.67 L515.20 324.90 L516.80 324.12 L518.40 323.34 L520.00 322.55 L521.60 321.75 L523.20 320.94 L524.80 320.13 L526.40 319.30 L528.00 318.46 L529.60 317.60 L531.20 316.73 L532.80 315.84 L534.40 314.93 L536.00 314.01 L537.60 313.08 L539.20 312.13 L540.80 311.16 L542.40 310.19 L544.00 309.20 L545.60 308.20 L547.20 307.18 L548.80 306.16 L550.40 305.13 L552.00 304.09 L553.60 303.05 L555.20 301.99 L556.80 300.93 L558.40 299.86 L560.00 298.78 L561.60 297.70 L563.20 296.61 L564.80 295.51 L566.40 294.40 L568.00 293.28 L569.60 292.16 L571.20 291.03 L572.80 289.89 L574.40 288.74 L576.00 287.59 L577.60 286.43 L579.20 285.26 L580.80 284.09 L582.40 282.91 L584.00 281.72 L585.60 280.53 L587.20 279.33 L588.80 278.13 L590.40 276.92 L592.00 275.70 L593.60 274.47 L595.20 273.24 L596.80 272.00 L598.40 270.76 L600.00 269.50 L601.60 268.25 L603.20 266.98 L604.80 265.70 L606.40 264.42 L608.00 263.13 L609.60 261.84 L611.20 260.53 L612.80 259.22 L614.40 257.90 L616.00 256.57 L617.60 255.23 L619.20 253.89 L620.80 252.54 L622.40 251.18 L624.00 249.81 L625.60 248.43 L627.20 247.04 L628.80 245.65 L630.40 244.24 L632.00 242.83 L633.60 241.41 L635.20 239.98 L636.80 238.55 L638.40 237.10 L640.00 235.65 L641.60 234.19 L643.20 232.72 L644.80 231.24 L646.40 229.76 L648.00 228.26 L649.60 226.76 L651.20 225.26 L652.80 223.74 L654.40 222.22 L656.00 220.70 L657.60 219.17 L659.20 217.63 L660.80 216.09 L662.40 214.54 L664.00 213.00 L665.60 211.44 L667.20 209.88 L668.80 208.32 L670.40 206.76 L672.00 205.19 L673.60 203.61 L675.20 202.04 L676.80 200.46 L678.40 198.89 L680.00 197.31 L681.60 195.73 L683.20 194.15 L684.80 192.57 L686.40 191.00 L688.00 189.42 L689.60 187.85 L691.20 186.29 L692.80 184.73 L694.40 183.17 L696.00 181.61 L697.60 180.07 L699.20 178.52 L700.80 176.98 L702.40 175.44 L704.00 173.90 L705.60 172.37 L707.20 170.84 L708.80 169.30 L710.40 167.77 L712.00 166.23 L713.60 164.69 L715.20 163.15 L716.80 161.60 L718.40 160.05 L720.00 158.49 L721.60 156.93 L723.20 155.36 L724.80 153.79 L726.40 152.22 L728.00 150.64 L729.60 149.06 L731.20 147.47 L732.80 145.88 L734.40 144.30 L736.00 142.71 L737.60 141.12 L739.20 139.52 L740.80 137.93 L742.40 136.34 L744.00 134.75 L745.60 133.17 L747.20 131.58 L748.80 129.99 L750.40 128.41 L752.00 126.82 L753.60 125.24 L755.20 123.66 L756.80 122.07 L758.40 120.49 L760.00 118.91 L761.60 117.33 L763.20 115.75 L764.80 114.16 L766.40 112.58 L768.00 111.00 L769.60 109.42 L771.20 107.84 L772.80 106.25 L774.40 104.67 L776.00 103.09 L777.60 101.51 L779.20 99.92 L780.80 98.34 L782.40 96.76 L784.00 95.18 L785.60 93.60 L786.00 93.20" stroke="#EB6235"/>
<path d="M198.90 138.90 L199.10 140.66 L199.30 142.39 L199.50 144.08 L199.70 145.72 L199.90 147.29 L200.30 150.03 L200.70 152.62 L201.10 154.67 L201.50 156.47 L201.90 158.09 L202.50 160.28 L203.10 162.21 L203.70 163.94 L204.30 165.53 L205.10 167.47 L205.90 169.25 L206.70 170.90 L207.50 172.44 L208.50 174.22 L209.50 175.85 L210.70 177.62 L211.90 179.21 L213.30 180.90 L214.70 182.50 L216.10 184.07 L217.50 185.65 L218.90 187.25 L220.30 188.87 L221.70 190.49 L223.10 192.10 L224.50 193.70 L225.90 195.29 L227.30 196.86 L228.69 198.41 L230.09 199.94 L231.49 201.45 L233.09 203.16 L234.69 204.85 L236.29 206.53 L237.89 208.20 L239.49 209.87 L241.09 211.54 L242.69 213.20 L244.29 214.86 L245.89 216.53 L247.49 218.20 L249.09 219.87 L250.69 221.55 L252.29 223.23 L253.89 224.91 L255.49 226.58 L257.09 228.24 L258.69 229.89 L260.29 231.52 L261.89 233.13 L263.49 234.72 L265.09 236.28 L266.69 237.82 L268.29 239.33 L269.89 240.82 L271.49 242.29 L273.09 243.74 L274.69 245.17 L276.29 246.57 L277.89 247.95 L279.49 249.30 L281.09 250.62 L282.69 251.90 L284.29 253.15 L285.88 254.37 L287.48 255.55 L289.08 256.70 L290.68 257.82 L292.28 258.92 L293.88 259.99 L295.48 261.04 L297.08 262.07 L298.68 263.08 L300.28 264.08 L301.88 265.06 L303.48 266.02 L305.08 266.95 L306.68 267.86 L308.28 268.74 L309.88 269.59 L311.48 270.40 L313.08 271.16 L314.68 271.89 L316.28 272.56 L317.88 273.19 L319.48 273.77 L321.08 274.30 L322.68 274.78 L324.28 275.21 L325.88 275.58 L327.48 275.91 L329.08 276.20 L330.68 276.44 L332.28 276.65 L333.88 276.81 L335.48 276.95 L337.08 277.05 L338.68 277.12 L340.28 277.17 L341.88 277.19 L343.47 277.19 L345.07 277.16 L346.67 277.11 L348.27 277.04 L349.87 276.94 L351.47 276.82 L353.07 276.67 L354.67 276.49 L356.27 276.29 L357.87 276.06 L359.47 275.80 L361.07 275.50 L362.67 275.18 L364.27 274.84 L365.87 274.47 L367.47 274.08 L369.07 273.68 L370.67 273.27 L372.27 272.85 L373.87 272.43 L375.47 272.02 L377.07 271.61 L378.67 271.22 L380.27 270.83 L381.87 270.44 L383.47 270.07 L385.07 269.69 L386.67 269.32 L388.27 268.94 L389.87 268.56 L391.47 268.16 L393.07 267.76 L394.67 267.34 L396.27 266.91 L397.87 266.46 L399.47 266.01 L401.06 265.53 L402.66 265.05 L404.26 264.56 L405.86 264.05 L407.46 263.54 L409.06 263.01 L410.66 262.48 L412.26 261.94 L413.86 261.40 L415.46 260.84 L417.06 260.28 L418.66 259.71 L420.26 259.14 L421.86 258.55 L423.46 257.96 L425.06 257.37 L426.66 256.76 L428.26 256.15 L429.86 255.54 L431.46 254.92 L433.06 254.29 L434.66 253.66 L436.26 253.03 L437.86 252.40 L439.46 251.76 L441.06 251.12 L442.66 250.48 L444.26 249.83 L445.86 249.18 L447.46 248.53 L449.06 247.87 L450.66 247.21 L452.26 246.55 L453.86 245.89 L455.46 245.23 L457.06 244.56 L458.65 243.90 L460.25 243.24 L461.85 242.58 L463.45 241.92 L465.05 241.27 L466.65 240.62 L468.25 239.97 L469.85 239.32 L471.45 238.68 L473.05 238.04 L474.65 237.40 L476.25 236.76 L477.85 236.12 L479.45 235.48 L481.05 234.84 L482.65 234.19 L484.25 233.54 L485.85 232.89 L487.45 232.23 L489.05 231.56 L490.65 230.89 L492.25 230.20 L493.85 229.51 L495.45 228.81 L497.05 228.10 L498.65 227.38 L500.25 226.65 L501.85 225.91 L503.45 225.17 L505.05 224.42 L506.65 223.66 L508.25 222.90 L509.85 222.13 L511.45 221.35 L513.05 220.57 L514.65 219.79 L516.25 219.00 L517.84 218.20 L519.44 217.40 L521.04 216.60 L522.64 215.79 L524.24 214.97 L525.84 214.15 L527.44 213.32 L529.04 212.49 L530.64 211.66 L532.24 210.82 L533.84 209.97 L535.44 209.12 L537.04 208.27 L538.64 207.40 L540.24 206.54 L541.84 205.66 L543.44 204.78 L545.04 203.90 L546.64 203.00 L548.24 202.10 L549.84 201.19 L551.44 200.28 L553.04 199.36 L554.64 198.43 L556.24 197.49 L557.84 196.54 L559.44 195.59 L561.04 194.63 L562.64 193.67 L564.24 192.69 L565.84 191.72 L567.44 190.73 L569.04 189.74 L570.64 188.74 L572.24 187.73 L573.84 186.71 L575.43 185.69 L577.03 184.66 L578.63 183.63 L580.23 182.58 L581.83 181.53 L583.43 180.47 L585.03 179.41 L586.63 178.34 L588.23 177.26 L589.83 176.18 L591.43 175.09 L593.03 173.99 L594.63 172.88 L596.23 171.77 L597.83 170.65 L599.43 169.53 L601.03 168.40 L602.63 167.26 L604.23 166.11 L605.83 164.96 L607.43 163.80 L609.03 162.64 L610.63 161.47 L612.23 160.29 L613.83 159.10 L615.43 157.91 L617.03 156.71 L618.63 155.50 L620.23 154.28 L621.83 153.05 L623.43 151.82 L625.03 150.58 L626.63 149.33 L628.23 148.07 L629.83 146.80 L631.43 145.52 L633.02 144.24 L634.62 142.94 L636.22 141.64 L637.82 140.32 L639.42 139.00 L641.02 137.66 L642.62 136.32 L644.22 134.96 L645.82 133.60 L647.42 132.23 L649.02 130.85 L650.62 129.45 L652.22 128.05 L653.82 126.64 L655.42 125.23 L657.02 123.80 L658.62 122.38 L660.22 120.94 L661.82 119.49 L663.42 118.04 L665.02 116.57 L666.62 115.10 L668.22 113.62 L669.82 112.13 L671.42 110.63 L673.02 109.13 L674.62 107.62 L676.22 106.11 L677.82 104.59 L679.42 103.07 L681.02 101.54 L682.62 100.01 L684.22 98.48 L685.82 96.94 L687.42 95.41 L689.02 93.87 L690.61 92.33 L692.21 90.80 L693.81 89.26 L695.41 87.72 L697.01 86.19 L698.61 84.66 L700.21 83.13 L701.81 81.60 L703.41 80.08 L705.01 78.56 L706.61 77.04 L708.21 75.53 L709.81 74.02 L711.41 72.51 L713.01 71.01 L714.61 69.51 L716.21 68.01 L717.81 66.51 L719.41 65.01 L721.01 63.51 L722.61 62.02 L724.21 60.51 L725.81 59.01 L727.41 57.51 L729.01 56.00 L730.61 54.48 L732.21 52.97 L733.81 51.45 L735.41 49.93 L737.01 48.40 L738.61 46.88 L740.21 45.35 L741.81 43.82 L743.41 42.29 L745.01 40.76 L746.61 39.23 L748.20 37.70 L749.80 36.16 L751.40 34.62 L753.00 33.08 L754.60 31.53 L756.20 29.99 L757.80 28.44 L759.40 26.88 L761.00 25.33 L762.60 23.77 L764.20 22.21 L765.80 20.64 L767.40 19.07 L769.00 17.50 L770.60 15.91 L772.20 14.32 L773.80 12.71 L775.40 11.10 L776.00 10.50" stroke="#8778B3"/>
<path d="M198.90 205.10 L199.10 207.11 L199.30 209.09 L199.50 211.02 L199.70 212.89 L199.90 214.68 L200.10 216.38 L200.50 219.44 L200.90 221.99 L201.30 224.18 L201.70 226.17 L202.10 227.99 L202.50 229.66 L202.90 231.19 L203.50 233.21 L204.10 234.97 L204.70 236.51 L205.50 238.32 L206.30 239.91 L207.30 241.69 L208.30 243.30 L209.30 244.81 L210.50 246.54 L211.70 248.19 L212.90 249.78 L214.10 251.30 L215.50 253.03 L216.90 254.71 L218.30 256.36 L219.70 257.97 L221.10 259.53 L222.50 261.05 L224.10 262.72 L225.70 264.33 L227.30 265.90 L228.89 267.43 L230.49 268.95 L232.09 270.47 L233.69 272.00 L235.29 273.54 L236.89 275.10 L238.49 276.66 L240.09 278.22 L241.69 279.78 L243.29 281.35 L244.89 282.91 L246.49 284.47 L248.09 286.02 L249.69 287.56 L251.29 289.08 L252.89 290.58 L254.49 292.05 L256.09 293.51 L257.69 294.96 L259.29 296.38 L260.89 297.81 L262.49 299.22 L264.09 300.64 L265.69 302.05 L267.29 303.47 L268.89 304.90 L270.49 306.32 L272.09 307.75 L273.69 309.17 L275.29 310.59 L276.89 312.00 L278.49 313.39 L280.09 314.77 L281.69 316.14 L283.29 317.49 L284.89 318.83 L286.49 320.15 L288.08 321.46 L289.68 322.76 L291.28 324.05 L292.88 325.32 L294.48 326.59 L296.08 327.83 L297.68 329.05 L299.28 330.24 L300.88 331.38 L302.48 332.47 L304.08 333.50 L305.68 334.46 L307.28 335.36 L308.88 336.18 L310.48 336.94 L312.08 337.63 L313.68 338.26 L315.28 338.84 L316.88 339.38 L318.48 339.88 L320.08 340.36 L321.68 340.80 L323.28 341.21 L324.88 341.60 L326.48 341.97 L328.08 342.30 L329.68 342.61 L331.28 342.88 L332.88 343.12 L334.48 343.32 L336.08 343.48 L337.68 343.60 L339.28 343.68 L340.88 343.73 L342.48 343.73 L344.08 343.70 L345.68 343.63 L347.27 343.53 L348.87 343.39 L350.47 343.22 L352.07 343.03 L353.67 342.80 L355.27 342.55 L356.87 342.28 L358.47 341.99 L360.07 341.67 L361.67 341.35 L363.27 341.00 L364.87 340.65 L366.47 340.29 L368.07 339.93 L369.67 339.56 L371.27 339.20 L372.87 338.83 L374.47 338.47 L376.07 338.12 L377.67 337.76 L379.27 337.41 L380.87 337.06 L382.47 336.71 L384.07 336.35 L385.67 335.99 L387.27 335.62 L388.87 335.23 L390.47 334.84 L392.07 334.42 L393.67 334.00 L395.27 333.55 L396.87 333.10 L398.47 332.62 L400.07 332.13 L401.67 331.63 L403.27 331.12 L404.86 330.59 L406.46 330.06 L408.06 329.52 L409.66 328.98 L411.26 328.43 L412.86 327.87 L414.46 327.31 L416.06 326.75 L417.66 326.19 L419.26 325.62 L420.86 325.05 L422.46 324.47 L424.06 323.89 L425.66 323.31 L427.26 322.73 L428.86 322.14 L430.46 321.54 L432.06 320.95 L433.66 320.35 L435.26 319.74 L436.86 319.13 L438.46 318.52 L440.06 317.91 L441.66 317.29 L443.26 316.67 L444.86 316.04 L446.46 315.42 L448.06 314.79 L449.66 314.15 L451.26 313.52 L452.86 312.88 L454.46 312.24 L456.06 311.59 L457.66 310.95 L459.26 310.30 L460.86 309.66 L462.46 309.01 L464.05 308.36 L465.65 307.71 L467.25 307.07 L468.85 306.42 L470.45 305.77 L472.05 305.12 L473.65 304.47 L475.25 303.81 L476.85 303.16 L478.45 302.50 L480.05 301.83 L481.65 301.17 L483.25 300.50 L484.85 299.82 L486.45 299.14 L488.05 298.46 L489.65 297.77 L491.25 297.08 L492.85 296.38 L494.45 295.68 L496.05 294.97 L497.65 294.26 L499.25 293.55 L500.85 292.83 L502.45 292.12 L504.05 291.39 L505.65 290.67 L507.25 289.95 L508.85 289.22 L510.45 288.49 L512.05 287.75 L513.65 286.99 L515.25 286.23 L516.85 285.46 L518.45 284.67 L520.05 283.86 L521.65 283.04 L523.24 282.21 L524.84 281.37 L526.44 280.52 L528.04 279.66 L529.64 278.79 L531.24 277.92 L532.84 277.05 L534.44 276.17 L536.04 275.29 L537.64 274.41 L539.24 273.53 L540.84 272.64 L542.44 271.76 L544.04 270.86 L545.64 269.97 L547.24 269.07 L548.84 268.16 L550.44 267.25 L552.04 266.33 L553.64 265.41 L555.24 264.48 L556.84 263.55 L558.44 262.60 L560.04 261.66 L561.64 260.70 L563.24 259.73 L564.84 258.76 L566.44 257.79 L568.04 256.80 L569.64 255.81 L571.24 254.81 L572.84 253.81 L574.44 252.80 L576.04 251.78 L577.64 250.75 L579.24 249.72 L580.83 248.67 L582.43 247.62 L584.03 246.57 L585.63 245.50 L587.23 244.42 L588.83 243.34 L590.43 242.25 L592.03 241.15 L593.63 240.04 L595.23 238.92 L596.83 237.80 L598.43 236.66 L600.03 235.52 L601.63 234.36 L603.23 233.20 L604.83 232.03 L606.43 230.85 L608.03 229.66 L609.63 228.46 L611.23 227.25 L612.83 226.04 L614.43 224.81 L616.03 223.58 L617.63 222.33 L619.23 221.08 L620.83 219.82 L622.43 218.55 L624.03 217.28 L625.63 215.99 L627.23 214.69 L628.83 213.39 L630.43 212.08 L632.03 210.77 L633.63 209.44 L635.23 208.11 L636.83 206.77 L638.43 205.43 L640.02 204.08 L641.62 202.72 L643.22 201.36 L644.82 199.99 L646.42 198.62 L648.02 197.25 L649.62 195.87 L651.22 194.49 L652.82 193.10 L654.42 191.71 L656.02 190.32 L657.62 188.93 L659.22 187.53 L660.82 186.13 L662.42 184.73 L664.02 183.32 L665.62 181.92 L667.22 180.50 L668.82 179.09 L670.42 177.67 L672.02 176.25 L673.62 174.82 L675.22 173.40 L676.82 171.98 L678.42 170.55 L680.02 169.13 L681.62 167.70 L683.22 166.27 L684.82 164.84 L686.42 163.41 L688.02 161.98 L689.62 160.54 L691.22 159.09 L692.82 157.64 L694.42 156.18 L696.02 154.71 L697.62 153.24 L699.21 151.75 L700.81 150.25 L702.41 148.74 L704.01 147.22 L705.61 145.69 L707.21 144.15 L708.81 142.59 L710.41 141.03 L712.01 139.45 L713.61 137.87 L715.21 136.29 L716.81 134.70 L718.41 133.12 L720.01 131.53 L721.61 129.95 L723.21 128.37 L724.81 126.79 L726.41 125.23 L728.01 123.66 L729.61 122.10 L731.21 120.55 L732.81 118.99 L734.41 117.43 L736.01 115.87 L737.61 114.31 L739.21 112.75 L740.81 111.18 L742.41 109.61 L744.01 108.04 L745.61 106.47 L747.21 104.90 L748.81 103.32 L750.41 101.75 L752.01 100.17 L753.61 98.60 L755.21 97.03 L756.80 95.45 L758.40 93.88 L760.00 92.32 L761.60 90.75 L763.20 89.19 L764.80 87.64 L766.40 86.08 L768.00 84.53 L769.60 82.99 L771.20 81.44 L772.80 79.91 L774.40 78.37 L776.00 76.83 L777.60 75.30 L779.20 73.77 L780.80 72.25 L782.40 70.72 L784.00 69.20 L785.60 67.68 L786.00 67.30" stroke="#C56E1A"/>
</g>
<text x="114.2" y="30.4" text-anchor="end" font-size="29.3px">10<tspan font-size="20.6px" dy="-12.5" dx="-1.3">−12</tspan></text>
<text x="114.2" y="85.24" text-anchor="end" font-size="29.3px">10<tspan font-size="20.6px" dy="-12.5" dx="-1.3">−13</tspan></text>
<text x="114.2" y="140.07" text-anchor="end" font-size="29.3px">10<tspan font-size="20.6px" dy="-12.5" dx="-1.3">−14</tspan></text>
<text x="114.2" y="194.91" text-anchor="end" font-size="29.3px">10<tspan font-size="20.6px" dy="-12.5" dx="-1.3">−15</tspan></text>
<text x="114.2" y="249.75" text-anchor="end" font-size="29.3px">10<tspan font-size="20.6px" dy="-12.5" dx="-1.3">−16</tspan></text>
<text x="114.2" y="304.59" text-anchor="end" font-size="29.3px">10<tspan font-size="20.6px" dy="-12.5" dx="-1.3">−17</tspan></text>
<text x="114.2" y="359.43" text-anchor="end" font-size="29.3px">10<tspan font-size="20.6px" dy="-12.5" dx="-1.3">−18</tspan></text>
<text x="114.2" y="414.26" text-anchor="end" font-size="29.3px">10<tspan font-size="20.6px" dy="-12.5" dx="-1.3">−19</tspan></text>
<text x="114.2" y="469.1" text-anchor="end" font-size="29.3px">10<tspan font-size="20.6px" dy="-12.5" dx="-1.3">−20</tspan></text>
<text x="282.6" y="491.1" text-anchor="middle" font-size="29.3px">10<tspan font-size="20.6px" dy="-12.5" dx="-1.3">−13</tspan></text>
<text x="499.85" y="491.1" text-anchor="middle" font-size="29.3px">10<tspan font-size="20.6px" dy="-12.5" dx="-1.3">−12</tspan></text>
<text x="717.1" y="491.1" text-anchor="middle" font-size="29.3px">10<tspan font-size="20.6px" dy="-12.5" dx="-1.3">−11</tspan></text>
<text x="475" y="533.5" text-anchor="middle" font-size="28.7px"><tspan font-style="italic">m</tspan> [eV]</text>
<g transform="translate(31.8 274.5) rotate(-90)">
<text x="0" y="0" transform="translate(0.0 0) scale(1.0 1)" font-size="29.3px" font-style="italic">f</text>
<text x="0" y="0" transform="translate(6.9 5.2) scale(1.0 1)" font-size="21.3px" font-style="italic">DG</text>
<text x="0" y="0" transform="translate(39.2 0) scale(1.19 1)" font-size="30.5px" font-style="italic">α</text>
<text x="0" y="0" transform="translate(62.0 -14.0) scale(1.0 1)" font-size="20.6px" font-style="normal">2</text>
</g>
<rect x="635.7" y="333.5" width="185.3" height="115.35" fill="none" stroke="#000" stroke-width="2.2"/>
<path d="M650.1 358.5H679" stroke="#5E81B5" stroke-width="2.6" fill="none"/>
<text x="688.8" y="364.0" font-size="18.3px">KH</text>
<path d="M737 358.5H765.8" stroke="#EB6235" stroke-width="2.6" fill="none"/>
<text x="775.5" y="364.0" font-size="18.3px">HL</text>
<path d="M650.1 391.5H679" stroke="#E19C24" stroke-width="2.6" fill="none"/>
<text x="688.8" y="397.0" font-size="18.3px">KL</text>
<path d="M737 391.5H765.8" stroke="#8778B3" stroke-width="2.6" fill="none"/>
<text x="775.5" y="397.0" font-size="18.3px">HV</text>
<path d="M650.1 424.5H679" stroke="#8FB032" stroke-width="2.6" fill="none"/>
<text x="688.8" y="430.0" font-size="18.3px">KV</text>
<path d="M737 424.5H765.8" stroke="#C56E1A" stroke-width="2.6" fill="none"/>
<text x="775.5" y="430.0" font-size="18.3px">LV</text>
</svg>
</body></html>
